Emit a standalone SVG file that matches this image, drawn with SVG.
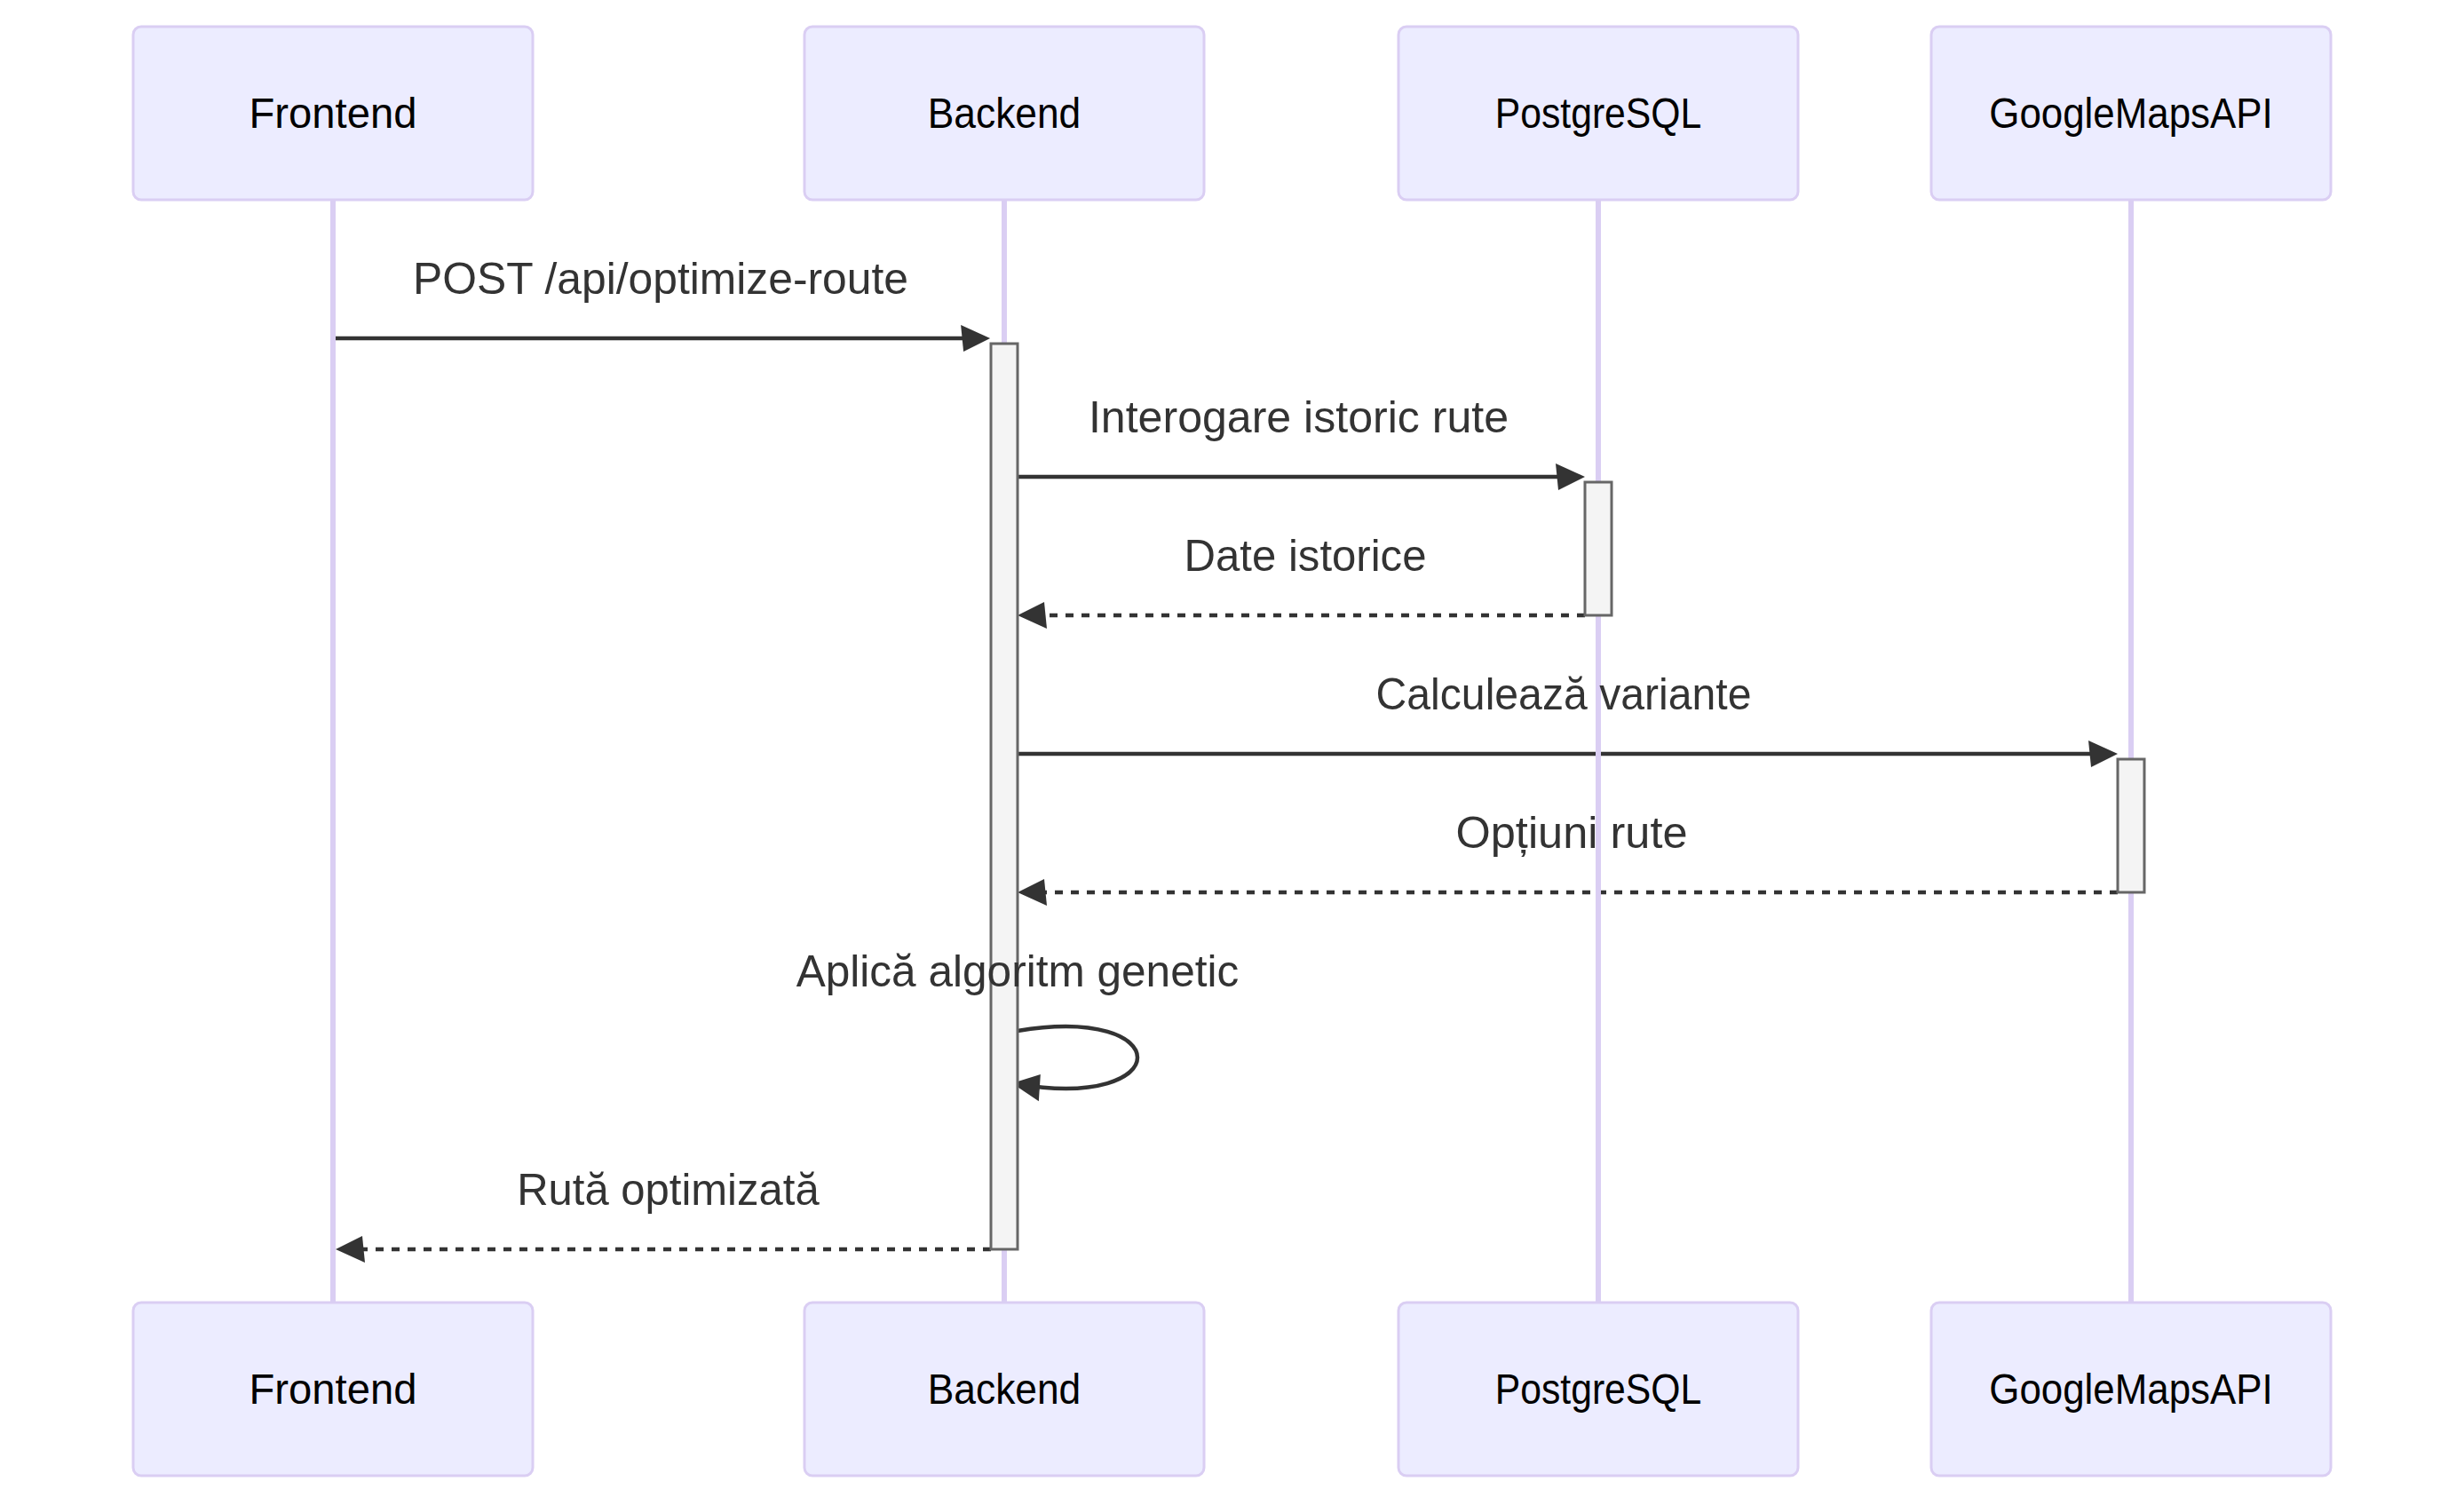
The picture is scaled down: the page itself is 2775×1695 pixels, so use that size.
<svg xmlns="http://www.w3.org/2000/svg" width="2775" height="1695" viewBox="0 0 2775 1695">
<style>
.actor{fill:#ECECFF;stroke:#DACEF3;stroke-width:1}
.actor-label{font-family:"Liberation Sans",Arial,sans-serif;font-size:16px;fill:#000;text-anchor:middle;dominant-baseline:central}
.lifeline{stroke:#DACEF3;stroke-width:2;fill:none}
.activation{fill:#F4F4F4;stroke:#666;stroke-width:1}
.msg{stroke:#333;stroke-width:1.5;fill:none;marker-end:url(#arrowhead)}
.dashed{stroke-dasharray:3,3}
.msg-label{font-family:"Liberation Sans",Arial,sans-serif;font-size:16.5px;fill:#333;text-anchor:middle}
</style>
<defs>
<marker id="arrowhead" refX="7.9" refY="5" markerUnits="userSpaceOnUse" markerWidth="12" markerHeight="12" orient="auto" overflow="visible">
<path d="M -1 0 L 10 5 L 0 10 z" fill="#333"/>
</marker>
</defs>
<rect width="2775" height="1695" fill="#fff"/>
<g transform="scale(3)">
<g id="connectors">
<path class="msg" d="M 125 127 L 369.6 127"/>
<path class="msg" d="M 382 179 L 592.9 179"/>
<path class="msg dashed" d="M 595 231 L 384.1 231"/>
<path class="msg" d="M 382 283 L 792.9 283"/>
<path class="msg dashed" d="M 795 335 L 384.1 335"/>
<path class="msg" d="M 382 387 C 442 377 442 417 382 407"/>
<path class="msg dashed" d="M 372 469 L 128.1 469"/>
</g>
<g id="lifelines">
<line class="lifeline" x1="125" y1="75" x2="125" y2="489"/>
<line class="lifeline" x1="377" y1="75" x2="377" y2="489"/>
<line class="lifeline" x1="600" y1="75" x2="600" y2="489"/>
<line class="lifeline" x1="800" y1="75" x2="800" y2="489"/>
</g>
<g id="activations">
<rect class="activation" x="372" y="129" width="10" height="340"/>
<rect class="activation" x="595" y="181" width="10" height="50"/>
<rect class="activation" x="795" y="285" width="10" height="50"/>
</g>
<g id="message-labels">
<text class="msg-label" x="248" y="110.3" textLength="186" lengthAdjust="spacingAndGlyphs">POST /api/optimize-route</text>
<text class="msg-label" x="487.5" y="162.3" textLength="157.7" lengthAdjust="spacingAndGlyphs">Interogare istoric rute</text>
<text class="msg-label" x="490" y="214.3" textLength="91" lengthAdjust="spacingAndGlyphs">Date istorice</text>
<text class="msg-label" x="587" y="266.3" textLength="141" lengthAdjust="spacingAndGlyphs">Calculează variante</text>
<text class="msg-label" x="590" y="318.3" textLength="87" lengthAdjust="spacingAndGlyphs">Opțiuni rute</text>
<text class="msg-label" x="382" y="370.3" textLength="166.2" lengthAdjust="spacingAndGlyphs">Aplică algoritm genetic</text>
<text class="msg-label" x="250.8" y="452.3" textLength="113.5" lengthAdjust="spacingAndGlyphs">Rută optimizată</text>
</g>
<g id="Frontend-top"><rect class="actor" x="50" y="10" width="150" height="65" rx="3" ry="3"/><text class="actor-label" x="125" y="42.5" textLength="63" lengthAdjust="spacingAndGlyphs">Frontend</text></g>
<g id="Backend-top"><rect class="actor" x="302" y="10" width="150" height="65" rx="3" ry="3"/><text class="actor-label" x="377" y="42.5" textLength="57.5" lengthAdjust="spacingAndGlyphs">Backend</text></g>
<g id="PostgreSQL-top"><rect class="actor" x="525" y="10" width="150" height="65" rx="3" ry="3"/><text class="actor-label" x="600" y="42.5" textLength="77.5" lengthAdjust="spacingAndGlyphs">PostgreSQL</text></g>
<g id="GoogleMapsAPI-top"><rect class="actor" x="725" y="10" width="150" height="65" rx="3" ry="3"/><text class="actor-label" x="800" y="42.5" textLength="106.5" lengthAdjust="spacingAndGlyphs">GoogleMapsAPI</text></g>
<g id="Frontend-bottom"><rect class="actor" x="50" y="489" width="150" height="65" rx="3" ry="3"/><text class="actor-label" x="125" y="521.5" textLength="63" lengthAdjust="spacingAndGlyphs">Frontend</text></g>
<g id="Backend-bottom"><rect class="actor" x="302" y="489" width="150" height="65" rx="3" ry="3"/><text class="actor-label" x="377" y="521.5" textLength="57.5" lengthAdjust="spacingAndGlyphs">Backend</text></g>
<g id="PostgreSQL-bottom"><rect class="actor" x="525" y="489" width="150" height="65" rx="3" ry="3"/><text class="actor-label" x="600" y="521.5" textLength="77.5" lengthAdjust="spacingAndGlyphs">PostgreSQL</text></g>
<g id="GoogleMapsAPI-bottom"><rect class="actor" x="725" y="489" width="150" height="65" rx="3" ry="3"/><text class="actor-label" x="800" y="521.5" textLength="106.5" lengthAdjust="spacingAndGlyphs">GoogleMapsAPI</text></g>
</g>
</svg>
